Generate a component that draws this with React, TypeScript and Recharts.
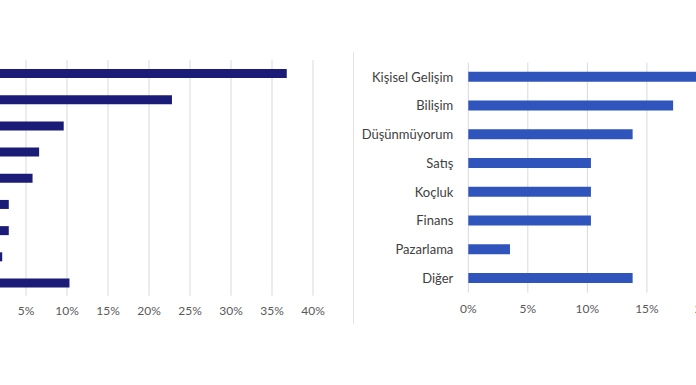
import { BarChart, Bar, XAxis, YAxis, CartesianGrid } from 'recharts';

// left chart: category labels are cropped out of the picture
const leftKeys = ['1', '2', '3', '4', '5', '6', '7', '8', '9'];
const leftValues = [0.368, 0.228, 0.096, 0.066, 0.058, 0.029, 0.029, 0.021, 0.103];
const leftTicks = [0, 0.05, 0.1, 0.15, 0.2, 0.25, 0.3, 0.35, 0.4];

const rightCategories = [
  'Kişisel Gelişim', 'Bilişim', 'Düşünmüyorum', 'Satış',
  'Koçluk', 'Finans', 'Pazarlama', 'Diğer',
];
const rightValues = [0.207, 0.172, 0.138, 0.103, 0.103, 0.103, 0.035, 0.138];
const rightTicks = [0, 0.05, 0.1, 0.15, 0.2, 0.25];

const leftData = leftKeys.map((k, i) => ({ name: k, value: leftValues[i] }));
const rightData = rightCategories.map((c, i) => ({ name: c, value: rightValues[i] }));

const pct = (v: number) => `${Math.round(v * 100)}%`;
const FONT = 'Lato, "Open Sans", sans-serif';
const tickStyle = { fontSize: 12, fill: '#595959', fontFamily: FONT };

export default function App() {
  return (
    <div style={{ position: 'absolute', left: 0, top: 0, width: 696, height: 385, overflow: 'hidden', background: '#fff' }}>
      <div style={{ position: 'absolute', left: -15.5, top: 0 }}>
        <BarChart
          width={360}
          height={385}
          layout="vertical"
          data={leftData}
          margin={{ top: 60, right: 32, bottom: 59.3, left: 0 }}
          barCategoryGap={0}
        >
          <CartesianGrid horizontal={false} stroke="#d9d9d9" />
          <XAxis
            type="number"
            domain={[0, 0.4]}
            ticks={leftTicks}
            tickFormatter={pct}
            axisLine={false}
            tickLine={false}
            tickSize={0}
            tickMargin={11}
            height={30}
            tick={tickStyle}
            interval={0}
          />
          <YAxis type="category" dataKey="name" hide />
          <Bar dataKey="value" fill="#1b1b78" barSize={9} isAnimationActive={false} />
        </BarChart>
      </div>

      <div style={{ position: 'absolute', left: 353, top: 52, width: 1, height: 272, background: '#e2e2e2' }} />

      <div style={{ position: 'absolute', left: 350, top: 0 }}>
        <BarChart
          width={450}
          height={385}
          layout="vertical"
          data={rightData}
          margin={{ top: 62.7, right: 34, bottom: 62.3, left: 0 }}
          barCategoryGap={0}
        >
          <CartesianGrid horizontal={false} stroke="#d9d9d9" />
          <XAxis
            type="number"
            domain={[0, 0.25]}
            ticks={rightTicks}
            tickFormatter={pct}
            axisLine={false}
            tickLine={false}
            tickSize={0}
            tickMargin={12}
            height={30}
            tick={tickStyle}
            interval={0}
          />
          <YAxis
            type="category"
            dataKey="name"
            width={118.3}
            axisLine={false}
            tickLine={false}
            tickSize={0}
            tickMargin={15}
            tick={{ fontSize: 13, fill: '#404040', fontFamily: FONT }}
            interval={0}
          />
          <Bar dataKey="value" fill="#2f55bd" barSize={10} isAnimationActive={false} />
        </BarChart>
      </div>
    </div>
  );
}
